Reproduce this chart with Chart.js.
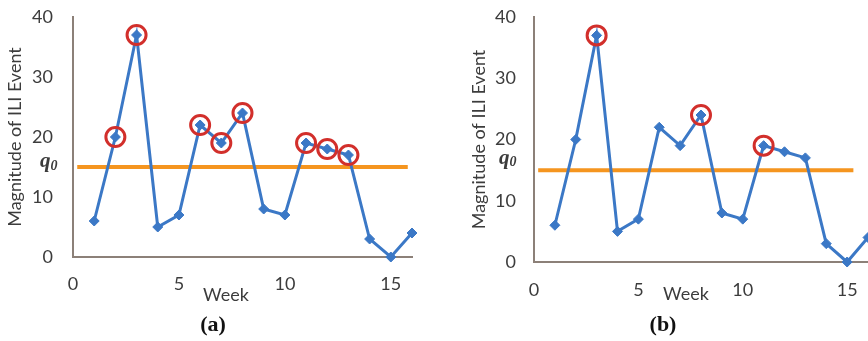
<!DOCTYPE html>
<html>
<head>
<meta charset="utf-8">
<script src="https://cdn.jsdelivr.net/npm/chart.js@4/dist/chart.umd.min.js"></script>
<style>
  html, body { margin: 0; padding: 0; background: #ffffff; overflow: hidden; }
  body { width: 868px; height: 341px; position: relative; }
  .panel { position: absolute; top: 0; height: 341px; }
  #wrapA { left: 0; width: 434px; }
  #wrapB { left: 434px; width: 456px; }
</style>
</head>
<body>
<div class="panel" id="wrapA"><canvas id="chartA"></canvas></div>
<div class="panel" id="wrapB"><canvas id="chartB"></canvas></div>
<script>
// Weekly ILI event magnitudes
const weeks = [1, 2, 3, 4, 5, 6, 7, 8, 9, 10, 11, 12, 13, 14, 15, 16];
const magnitude = [6, 20, 37, 5, 7, 22, 19, 24, 8, 7, 19, 18, 17, 3, 0, 4];
// Threshold q0
const threshold = 15;
// Weeks marked as detected events in each panel
const flaggedA = [2, 3, 6, 7, 8, 11, 12, 13];
const flaggedB = [3, 8, 11];
// Extent of the threshold line along the week axis
const thresholdSpanA = [0.2, 15.8];
const thresholdSpanB = [0.2, 15.3];
// Axis ticks
const xTicks = [0, 5, 10, 15];
const yTicks = [0, 10, 20, 30, 40];

const BLUE = '#3b78c6';
const ORANGE = '#f5951f';
const RED = '#d22f2b';
const AXIS = '#8c8078';
const TEXT = '#3c3c3c';
const FONT = 'Lato, "Open Sans", sans-serif';

function seriesPoints() {
  return weeks.map((w, i) => ({ x: w, y: magnitude[i] }));
}
function flaggedPoints(list) {
  return list.map(w => ({ x: w, y: magnitude[weeks.indexOf(w)] }));
}

// Extra labels: axis caption, panel letter, and the q0 marker
const annotate = {
  id: 'annotate',
  afterDraw(chart, args, opts) {
    const ctx = chart.ctx;
    const area = chart.chartArea;
    const ys = chart.scales.y;
    ctx.save();
    ctx.fillStyle = TEXT;
    ctx.textBaseline = 'middle';
    ctx.textAlign = 'center';
    ctx.font = '18px ' + FONT;
    ctx.fillText('Week', area.left + opts.weekDx, opts.weekY);

    ctx.font = 'bold 22px "Liberation Serif", "DejaVu Serif", serif';
    ctx.fillStyle = '#111';
    ctx.fillText(opts.letter, area.left + opts.letterDx, 325);

    // q with subscript 0
    const qy = ys.getPixelForValue(threshold) + opts.qDy;
    ctx.fillStyle = TEXT;
    ctx.textAlign = 'left';
    ctx.font = 'italic bold 21px "Liberation Serif", "DejaVu Serif", serif';
    ctx.fillText('q', opts.qX, qy);
    const qw = ctx.measureText('q').width;
    ctx.font = 'italic bold 14px "Liberation Serif", "DejaVu Serif", serif';
    ctx.fillText('0', opts.qX + qw, qy + 4);
    ctx.restore();
  }
};

function makeChart(id, flagged, span, cfg) {
  return new Chart(document.getElementById(id), {
    type: 'scatter',
    data: {
      datasets: [
        {
          label: 'q0',
          data: [{ x: span[0], y: threshold }, { x: span[1], y: threshold }],
          showLine: true,
          borderColor: ORANGE,
          borderWidth: 4,
          pointRadius: 0,
          order: 3
        },
        {
          label: 'ILI',
          data: seriesPoints(),
          showLine: true,
          borderColor: BLUE,
          backgroundColor: BLUE,
          borderWidth: 3,
          pointStyle: 'rectRot',
          pointRadius: 5,
          pointBorderWidth: 1,
          order: 2
        },
        {
          label: 'Detected',
          data: flaggedPoints(flagged),
          showLine: false,
          pointStyle: 'circle',
          pointRadius: 9.5,
          pointBorderWidth: 3,
          pointBorderColor: RED,
          pointBackgroundColor: 'rgba(0,0,0,0)',
          order: 1
        }
      ]
    },
    options: {
      responsive: true,
      maintainAspectRatio: false,
      animation: false,
      clip: false,
      layout: { padding: { top: cfg.top, right: 22, left: 0, bottom: 0 } },
      plugins: {
        legend: { display: false },
        tooltip: { enabled: false },
        annotate: cfg.annotate
      },
      scales: {
        x: {
          type: 'linear',
          min: 0,
          max: 16,
          grid: { display: false, drawTicks: false },
          border: { display: true, color: AXIS, width: 2 },
          afterBuildTicks: s => { s.ticks = xTicks.map(v => ({ value: v })); },
          ticks: { color: TEXT, font: { family: FONT, size: 18 }, padding: cfg.xPad, maxRotation: 0 },
          afterFit: s => { s.height = cfg.xHeight; s.paddingLeft = 0; s.paddingRight = 0; }
        },
        y: {
          type: 'linear',
          min: 0,
          max: 40,
          grid: { display: false, drawTicks: false },
          border: { display: true, color: AXIS, width: 2 },
          afterBuildTicks: s => { s.ticks = yTicks.map(v => ({ value: v })); },
          ticks: { color: TEXT, font: { family: FONT, size: 18 }, padding: cfg.yPad },
          title: {
            display: true,
            text: 'Magnitude of ILI Event',
            color: TEXT,
            font: { family: FONT, size: 18 },
            padding: { top: cfg.titlePad, bottom: 0 }
          },
          afterFit: s => { s.width = cfg.yWidth; s.paddingTop = 0; s.paddingBottom = 0; }
        }
      }
    },
    plugins: [annotate]
  });
}

makeChart('chartA', flaggedA, thresholdSpanA, {
  top: 17, xHeight: 84, yWidth: 73, xPad: 16, yPad: 20, titlePad: 4,
  annotate: { weekDx: 153, weekY: 295, letter: '(a)', letterDx: 140, qX: 40, qDy: -5 }
});
makeChart('chartB', flaggedB, thresholdSpanB, {
  top: 17, xHeight: 79, yWidth: 100, xPad: 17, yPad: 18, titlePad: 34,
  annotate: { weekDx: 152, weekY: 294, letter: '(b)', letterDx: 129, qX: 65, qDy: -12 }
});
</script>
</body>
</html>
